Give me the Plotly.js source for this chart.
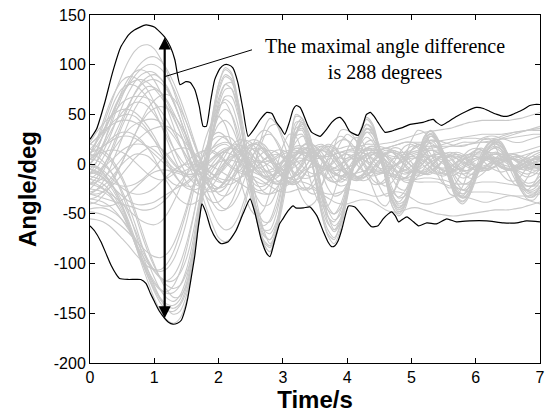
<!DOCTYPE html>
<html>
<head>
<meta charset="utf-8">
<script src="https://cdn.plot.ly/plotly-3.0.1.min.js"></script>
<style>html,body{margin:0;padding:0;background:#fff;}#chart{width:546px;height:416px;}</style>
</head>
<body>
<div id="chart"></div>
<script>
// ---- time grid (s) ----
const time = [0,0.1,0.2,0.3,0.4,0.5,0.6,0.7,0.8,0.9,1,1.1,1.2,1.3,1.4,1.5,1.6,1.7,1.8,1.9,2,2.1,2.2,2.3,2.4,2.5,2.6,2.7,2.8,2.9,3,3.1,3.2,3.3,3.4,3.5,3.6,3.7,3.8,3.9,4,4.1,4.2,4.3,4.4,4.5,4.6,4.7,4.8,4.9,5,5.1,5.2,5.3,5.4,5.5,5.6,5.7,5.8,5.9,6,6.1,6.2,6.3,6.4,6.5,6.6,6.7,6.8,6.9,7];

// ---- gray trajectories (deg), one value per time point ----
const curveA1 = [0,-3,-8,-16,-28,-42,-60,-80,-100,-118, -135,-148,-157,-160,-155,-138,-100,-57,-2,45, 80,97,92,65,22,-25,-58,-80,-88,-72, -32,12,48,46,20,-15,-50,-72,-80,-65, -35,0,30,45,38,15,-15,-42,-52,-45, -22,6,27,34,27,8,-18,-35,-40,-32, -12,8,20,25,22,10,-8,-25,-35,-36, -28];
const curveA2 = [10,8,3,-5,-16,-30,-48,-68,-88,-106, -122,-136,-146,-151,-148,-132,-98,-55,-5,40, 72,88,84,60,20,-22,-56,-78,-84,-68, -30,10,42,42,18,-14,-46,-66,-74,-60, -32,0,27,40,34,13,-14,-38,-48,-41, -20,5,24,31,25,7,-16,-32,-37,-30, -11,7,18,23,20,9,-8,-23,-32,-33, -26];
const curveA3 = [-15,-17,-20,-26,-35,-47,-62,-80,-97,-113, -126,-137,-143,-145,-140,-124,-94,-50,-2,38, 66,80,76,54,16,-22,-54,-72,-76,-60, -26,8,36,38,16,-12,-42,-60,-66,-54, -28,0,24,36,30,12,-12,-34,-44,-38, -18,5,22,28,22,6,-14,-30,-34,-27, -10,6,16,21,18,8,-7,-21,-29,-30, -24];
const curveA4 = [5,4,0,-6,-15,-27,-42,-60,-80,-98, -114,-127,-135,-138,-132,-115,-85,-42,5,48, 80,95,90,62,18,-28,-58,-80,-88,-68, -28,16,50,46,25,-12,-48,-70,-76,-60, -30,4,33,47,40,16,-16,-42,-50,-42, -18,8,28,33,25,5,-18,-34,-38,-30, -10,9,21,25,20,7,-10,-26,-33,-32, -22];
const curveA5 = [-25,-26,-28,-32,-40,-50,-63,-78,-93,-107, -118,-126,-130,-129,-122,-106,-78,-40,0,32, 55,65,60,40,8,-25,-52,-66,-66,-50, -20,10,32,34,15,-12,-38,-53,-58,-46, -22,3,22,32,26,8,-14,-32,-38,-31, -14,6,20,24,18,3,-14,-27,-30,-23, -7,7,15,18,14,4,-8,-20,-26,-25, -18];
const curveA6 = [15,14,11,5,-4,-16,-32,-50,-70,-88, -103,-115,-122,-125,-122,-110,-88,-55,-15,25, 58,75,76,58,24,-14,-48,-70,-76,-64, -34,0,30,42,30,4,-28,-52,-62,-55, -32,-4,20,35,34,18,-6,-30,-42,-40, -24,-2,18,28,26,12,-8,-26,-34,-31, -16,2,16,22,20,10,-4,-18,-27,-29, -24];
const curveA7 = [-5,-7,-11,-17,-26,-37,-51,-66,-82,-96, -107,-114,-118,-117,-110,-95,-70,-36,0,28, 48,55,50,32,4,-24,-46,-58,-58,-44, -18,8,28,30,14,-10,-33,-46,-50,-40, -20,2,19,27,22,7,-12,-27,-33,-27, -12,5,17,21,16,3,-12,-23,-26,-20, -6,6,13,16,12,3,-7,-17,-22,-21, -15];
const curveA8 = [-35,-36,-38,-42,-48,-56,-66,-78,-90,-100, -106,-108,-105,-96,-80,-58,-30,0,26,42, 48,40,20,-6,-30,-46,-52,-46,-28,-4, 18,30,28,12,-10,-30,-42,-42,-28,-6, 14,26,26,14,-4,-22,-32,-30,-18,0, 14,20,16,4,-10,-20,-24,-18,-6,6, 14,16,10,0,-10,-16,-17,-12,-3,6, 10];
const curveA9 = [-8,-10,-14,-21,-31,-44,-60,-78,-96,-113, -128,-140,-147,-148,-142,-128,-100,-55,-10,30, 62,80,82,64,32,-6,-40,-66,-80,-68, -40,-4,30,44,32,8,-24,-52,-66,-58, -32,-2,26,40,36,14,-14,-36,-44,-36, -14,10,26,30,22,2,-18,-30,-32,-22, -4,12,21,22,14,0,-14,-24,-26,-20, -8];
const curveA10 = [20,18,14,8,-1,-13,-28,-46,-65,-84, -101,-116,-127,-134,-133,-122,-96,-50,-10,26, 52,68,68,50,18,-18,-48,-66,-70,-58, -32,0,28,40,32,8,-22,-46,-56,-50, -28,0,24,36,32,14,-10,-30,-40,-36, -20,2,20,28,24,10,-8,-24,-30,-26, -12,4,16,20,17,8,-4,-16,-22,-22, -16];
const curveA11 = [-18,-20,-24,-30,-39,-50,-64,-80,-96,-110, -120,-127,-128,-122,-108,-86,-56,-22,12,40, 58,62,50,26,-4,-34,-54,-62,-56,-38, -12,14,32,36,26,4,-22,-42,-50,-44, -26,-2,20,32,30,16,-4,-24,-34,-32, -20,-2,14,24,22,12,-4,-18,-26,-24, -14,0,12,17,15,7,-4,-14,-19,-18, -12];
const curveA12 = [-2,-4,-9,-17,-28,-41,-57,-75,-93,-110, -124,-135,-141,-142,-136,-120,-90,-48,0,44, 76,90,86,60,20,-22,-56,-76,-82,-66, -30,8,38,46,30,0,-32,-58,-68,-58, -30,2,28,40,34,14,-12,-36,-46,-40, -20,4,22,30,24,8,-12,-28,-34,-28, -12,4,16,22,20,10,-4,-18,-26,-27, -22];
const curveB1 = [10,22,38,56,74,90,104,114,119,120, 116,106,92,74,54,34,14,-6,-24,-38, -46,-46,-38,-22,-4,14,28,34,32,22, 8,-8,-20,-26,-24,-14,0,14,24,28, 24,14,0,-12,-20,-20,-14,-2,10,18, 20,16,6,-4,-10,-12,-8,0,8,14, 16,14,8,2,-4,-6,-4,2,8,12, 14];
const curveB2 = [0,8,20,35,52,68,82,94,102,107, 108,104,95,82,66,48,28,8,-12,-28, -40,-45,-42,-32,-16,2,18,28,30,24, 12,-2,-16,-24,-26,-20,-8,6,18,24, 24,18,6,-6,-16,-20,-18,-10,2,12, 18,18,12,2,-6,-10,-10,-4,4,10, 14,14,10,4,-2,-6,-6,-2,4,9, 12];
const curveB3 = [-10,2,18,38,57,74,86,93,95,92, 84,72,56,38,20,4,-10,-20,-26,-28, -24,-16,-4,8,18,24,24,18,8,-4, -14,-20,-20,-14,-4,8,16,20,18,10, 0,-10,-16,-16,-10,0,10,16,16,10, 2,-6,-10,-10,-4,4,10,12,10,4, -2,-6,-6,-2,4,8,10,8,4,0, -2];
const curveB4 = [-20,-14,-4,10,26,42,58,72,82,88, 90,86,78,64,46,26,6,-14,-32,-48, -60,-66,-64,-54,-36,-14,8,26,38,40, 28,16,-2,-18,-28,-30,-22,-8,8,22, 30,26,20,6,-8,-18,-22,-18,-8,4, 14,20,18,10,0,-8,-12,-10,-4,4, 10,14,12,6,0,-5,-7,-5,0,5, 8];
const curveB5 = [5,14,28,44,60,72,80,84,85,82, 76,68,58,46,32,16,-2,-22,-42,-60, -74,-78,-74,-62,-42,-18,10,34,46,40, 24,4,-18,-34,-42,-38,-22,-2,18,34, 34,28,14,-4,-24,-38,-42,-32,-14,6, 24,34,32,20,2,-18,-30,-32,-22,-4, 14,24,26,18,4,-10,-20,-22,-14,-2, 8];
const curveB6 = [0,12,30,50,66,76,80,79,74,66, 54,40,24,8,-6,-18,-26,-30,-28,-22, -12,0,12,20,24,22,14,4,-8,-16, -20,-18,-10,0,10,16,18,14,6,-4, -12,-16,-14,-6,4,12,16,14,6,-2, -8,-12,-10,-4,4,10,12,10,4,-2, -6,-7,-4,2,7,10,10,6,1,-3, -5];
const curveB7 = [-30,-26,-18,-6,10,26,42,56,66,73, 75,72,64,52,38,22,6,-8,-18,-24, -24,-18,-8,4,14,20,20,14,4,-6, -14,-18,-16,-8,2,12,18,18,12,2, -8,-14,-14,-8,2,10,14,12,6,-2, -8,-10,-8,-2,6,10,10,6,0,-4, -6,-4,0,5,8,8,5,1,-3,-4, -2];
const curveB8 = [20,26,34,44,54,62,66,68,68,66, 62,54,44,32,20,8,-4,-12,-16,-14, -8,2,12,18,18,12,2,-8,-16,-18, -14,-4,8,18,22,18,8,-4,-14,-18, -14,-4,8,16,18,12,2,-8,-14,-14, -8,2,10,14,12,6,-2,-8,-10,-8, -2,4,8,10,8,3,-2,-5,-6,-3, 1];
const curveB9 = [-40,-38,-32,-24,-12,2,16,30,42,51, 56,58,56,50,40,28,14,0,-12,-20, -24,-22,-14,-4,6,14,16,12,4,-6, -12,-14,-10,-2,8,14,14,10,2,-6, -10,-10,-4,4,10,12,8,2,-4,-8, -8,-4,2,8,10,8,2,-4,-7,-6, -2,3,6,7,4,0,-3,-4,-2,1, 3];
const curveB10 = [-15,-10,-2,8,18,27,35,40,43,45, 45,42,36,28,18,8,-2,-10,-14,-14, -10,-2,6,12,14,10,4,-4,-10,-12, -10,-4,4,10,12,10,4,-4,-10,-12, -8,-2,6,10,10,6,0,-6,-8,-6, -2,4,8,8,5,0,-4,-6,-4,0, 4,6,6,3,0,-2,-3,-1,2,4, 5];
const curveB11 = [15,22,32,45,58,70,80,89,96,100, 100,96,88,76,60,42,24,8,-4,-10, -10,-4,4,12,16,16,12,6,2,0, 2,6,10,12,12,10,8,8,10,12, 14,16,18,20,20,20,21,22,24,26, 28,30,32,33,34,35,36,38,40,42, 43,44,44,44,44,44,45,46,48,50, 52];
const curveB12 = [10,24,42,60,74,84,88,87,82,74, 62,48,32,16,2,-10,-18,-22,-20,-14, -6,2,8,10,8,4,-2,-6,-8,-6, -2,2,6,6,4,0,-4,-6,-4,0, 4,6,6,3,0,-4,-5,-3,1,4, 6,6,4,0,-3,-4,-2,2,5,7, 8,8,7,6,5,5,6,8,10,12, 14];
const curveB13 = [-5,2,12,26,42,58,72,83,90,93, 92,86,76,62,46,28,10,-6,-18,-26, -28,-24,-14,-2,10,18,20,16,8,-2, -10,-14,-12,-6,2,10,14,14,8,0, -8,-12,-12,-6,2,8,12,12,6,0, -6,-8,-6,-2,4,8,8,6,2,-2, -4,-4,-2,2,5,6,5,2,-1,-3, -3];
const curveB14 = [-25,-18,-8,6,22,38,52,64,73,78, 77,72,62,48,32,14,-4,-20,-32,-38, -38,-32,-20,-6,8,18,22,20,12,0, -10,-18,-20,-14,-4,6,14,18,16,8, -2,-10,-14,-12,-6,2,10,14,12,6, -2,-8,-10,-8,-2,4,8,10,8,2, -4,-6,-6,-2,2,6,8,6,2,-2, -4];
const curveB15 = [-35,-33,-28,-20,-10,2,16,30,44,56, 64,69,70,66,56,42,24,6,-10,-22, -30,-32,-28,-18,-6,6,14,16,12,4, -6,-14,-16,-12,-4,6,14,18,16,8, -2,-10,-14,-12,-4,4,10,12,10,4, -2,-6,-8,-6,-2,4,8,8,6,2, -2,-4,-4,-2,2,4,5,4,2,0, -1];
const curveB16 = [0,8,18,30,42,52,58,62,62,58, 50,40,28,16,6,-2,-6,-6,-2,4, 10,14,16,14,10,6,2,2,4,8, 12,14,14,12,10,8,8,10,14,16, 18,18,16,14,14,14,16,18,20,22, 22,20,18,18,18,20,22,24,26,26, 26,25,25,26,28,30,32,33,34,34, 34];
const curveB17 = [-10,-4,6,18,32,46,60,71,80,84, 85,82,74,62,46,28,10,-6,-18,-24, -24,-18,-8,4,14,20,20,14,6,-2, -6,-6,-2,4,10,14,14,12,8,6, 6,8,12,16,18,18,16,14,12,12, 14,18,22,24,24,22,20,18,18,20, 22,26,28,28,26,24,22,22,24,26, 28];
const curveB18 = [10,18,28,38,45,49,50,48,42,34, 24,12,0,-10,-18,-22,-22,-18,-10,0, 8,14,16,14,8,0,-8,-14,-16,-14, -8,0,8,14,16,12,4,-4,-10,-12, -10,-4,4,10,12,10,4,-2,-8,-10, -8,-2,4,8,8,6,0,-4,-6,-6, -2,2,5,6,5,2,-1,-3,-4,-2, 0];
const curveB19 = [-20,-18,-14,-8,-2,6,14,22,28,33, 36,38,38,34,28,20,10,0,-8,-14, -18,-18,-14,-8,-2,2,4,2,-2,-8, -12,-14,-12,-8,-4,-2,-2,-4,-8,-12, -14,-14,-12,-10,-8,-8,-10,-12,-14,-16, -16,-15,-14,-14,-15,-16,-18,-20,-20,-20, -19,-18,-18,-18,-19,-20,-21,-22,-22,-22, -22];
const curveC1 = [-48,-49,-51,-54,-58,-63,-69,-76,-83,-89, -93,-94,-90,-80,-64,-44,-22,-2,14,24, 28,26,18,6,-6,-16,-22,-22,-16,-6, 4,12,16,14,8,-2,-10,-14,-12,-6, 2,8,12,10,4,-4,-10,-12,-8,-2, 4,8,8,4,-2,-6,-8,-6,-2,2, 6,7,5,1,-3,-5,-5,-2,2,5, 6];
const curveC2 = [-20,-22,-25,-29,-34,-40,-46,-52,-57,-60, -61,-58,-50,-38,-24,-10,2,10,14,14, 10,4,-2,-6,-8,-6,-2,4,8,10, 8,4,-2,-8,-12,-12,-8,-2,4,8, 10,8,4,-2,-8,-10,-8,-4,2,6, 8,6,2,-4,-8,-10,-8,-4,0,4, 6,6,3,0,-4,-6,-6,-4,-1,2, 4];
const curveC3 = [0,-2,-6,-12,-18,-24,-28,-30,-30,-28, -24,-18,-12,-6,-2,0,0,-2,-6,-10, -14,-16,-16,-14,-12,-12,-14,-18,-22,-26, -28,-28,-26,-24,-24,-26,-30,-34,-38,-40, -40,-38,-36,-36,-38,-42,-46,-48,-48,-46, -44,-44,-46,-48,-50,-51,-52,-52,-51,-50, -49,-48,-47,-46,-46,-46,-45,-44,-42,-40, -38];
const curveC4 = [5,10,17,24,29,32,32,29,24,16, 6,-6,-18,-28,-36,-40,-40,-36,-28,-16, -4,8,18,24,24,18,8,-4,-14,-20, -20,-16,-8,2,12,18,20,16,8,-2, -10,-16,-16,-12,-4,4,10,12,10,4, -2,-8,-10,-8,-2,4,8,10,8,4, 0,-4,-5,-3,1,5,8,8,6,3, 0];
const curveC5 = [-10,-8,-4,2,8,14,18,20,20,18, 14,8,2,-4,-8,-10,-10,-6,0,6, 10,12,10,6,2,-2,-4,-2,2,6, 10,12,12,10,8,6,6,8,10,12, 14,14,14,14,14,15,16,18,20,22, 22,22,22,22,23,24,25,26,27,28, 29,30,30,30,30,31,32,33,34,35, 36];
const curveC6 = [-30,-30,-28,-24,-18,-10,-2,6,12,16, 18,16,10,2,-6,-12,-16,-16,-12,-4, 4,12,16,16,10,2,-6,-12,-14,-10, -4,4,10,14,14,10,4,-2,-6,-6, -4,0,4,8,10,10,8,6,6,8, 10,12,14,16,17,18,18,18,19,20, 21,22,23,24,25,26,27,28,29,30, 30];
const curveC7 = [20,26,32,38,42,44,44,42,38,32, 24,16,8,0,-6,-10,-10,-6,0,6, 12,16,16,12,6,0,-6,-8,-6,-2, 4,10,12,10,6,0,-4,-6,-4,0, 6,10,12,10,6,2,-2,-2,0,4, 8,10,10,8,6,4,4,6,8,10, 12,12,12,11,10,10,11,12,14,16, 18];
const curveC8 = [-5,-8,-13,-19,-26,-32,-37,-40,-41,-40, -38,-34,-30,-26,-22,-18,-12,-4,6,16, 24,28,26,18,6,-8,-20,-28,-30,-24, -14,-2,10,18,20,14,4,-8,-18,-22, -20,-12,-2,8,14,14,8,-2,-12,-18, -18,-12,-4,4,10,10,6,-2,-10,-14, -14,-10,-4,2,6,7,4,-1,-6,-9, -10];
const curveC9 = [22,32,40,47,52,55,55,52,46,38, 28,16,4,-8,-18,-24,-26,-24,-18,-8, 2,12,18,20,16,8,-2,-12,-18,-20, -16,-8,2,12,18,18,12,2,-8,-14, -16,-12,-4,4,10,12,10,4,-2,-6, -8,-6,-2,2,6,8,8,6,2,0, -2,-2,0,2,4,5,5,4,2,1, 0];
const curveC10 = [-45,-44,-44,-46,-50,-56,-64,-74,-86,-98, -108,-115,-117,-112,-100,-80,-54,-24,4,26, 40,44,38,22,2,-18,-34,-42,-40,-28, -10,8,22,28,24,10,-8,-24,-32,-30, -20,-4,12,22,24,16,2,-14,-24,-26, -18,-4,10,18,18,10,-2,-14,-20,-18, -10,0,8,12,10,4,-4,-10,-13,-11, -5];
const curveC11 = [8,10,12,14,14,12,8,2,-4,-10, -14,-16,-14,-10,-4,2,8,12,14,12, 8,2,-4,-8,-10,-8,-2,4,10,14, 14,10,4,-2,-8,-10,-8,-4,2,8, 12,12,8,2,-4,-8,-8,-4,2,8, 12,12,8,2,-4,-6,-6,-2,4,8, 10,10,6,2,-2,-4,-4,-1,3,6, 8];
const curveC12 = [-28,-26,-22,-16,-8,0,6,10,10,8, 2,-6,-14,-20,-22,-20,-14,-6,4,12, 18,20,16,8,-2,-12,-18,-20,-16,-8, 2,10,16,16,12,4,-6,-14,-18,-16, -10,-2,8,14,16,12,4,-4,-10,-14, -12,-6,2,8,12,12,8,0,-6,-10, -10,-6,0,6,10,10,6,0,-4,-6, -6];
const curveC13 = [-38,-40,-42,-42,-40,-36,-30,-24,-18,-12, -8,-6,-6,-8,-10,-12,-12,-10,-6,-2, 2,4,4,2,-2,-6,-10,-12,-12,-10, -6,-2,2,4,4,2,-2,-6,-10,-12, -12,-10,-8,-6,-6,-6,-8,-10,-12,-14, -16,-18,-18,-18,-18,-20,-22,-24,-26,-28, -28,-28,-28,-29,-30,-31,-32,-32,-32,-31, -30];
const curveC14 = [12,14,18,22,26,28,28,26,22,16, 10,4,-2,-6,-8,-6,-2,4,10,16, 20,22,20,14,6,-2,-8,-12,-12,-8, -2,6,12,16,16,12,6,0,-4,-6, -4,0,6,10,12,12,10,8,8,10, 12,14,14,14,14,16,18,20,22,22, 22,22,22,24,26,28,30,32,34,36, 38];
const curveC15 = [-12,-14,-16,-18,-20,-22,-22,-20,-16,-10, -4,4,10,14,16,16,12,6,-2,-10, -16,-20,-20,-16,-10,-2,6,12,14,12, 6,-2,-10,-14,-14,-10,-4,4,10,12, 10,4,-4,-10,-12,-10,-4,4,10,12, 10,4,-2,-8,-10,-8,-4,2,8,10, 8,4,-2,-6,-8,-6,-2,2,6,8, 6];
const curveC16 = [-55,-56,-58,-62,-68,-75,-82,-90,-97,-103, -106,-106,-100,-88,-70,-48,-24,-2,16,28, 32,28,18,4,-10,-20,-26,-26,-20,-10, 2,12,18,18,12,2,-8,-16,-18,-14, -6,4,12,16,14,6,-4,-12,-16,-14, -6,4,10,14,12,6,-2,-10,-14,-12, -6,2,8,10,8,2,-4,-8,-10,-8, -4];
const curveC17 = [-30,-32,-34,-36,-38,-40,-42,-44,-46,-46, -44,-40,-34,-26,-18,-10,-4,0,0,-2, -6,-10,-14,-18,-22,-26,-28,-30,-30,-28, -24,-20,-18,-18,-20,-24,-28,-30,-30,-28, -26,-26,-28,-30,-32,-32,-30,-28,-28,-30, -34,-38,-40,-40,-38,-36,-34,-32,-32,-34, -36,-38,-38,-36,-34,-32,-32,-34,-36,-38, -40];

const grayCurves = [curveA1,curveA2,curveA3,curveA4,curveA5,curveA6,curveA7,curveA8,curveA9,curveA10,curveA11,curveA12,
  curveB1,curveB2,curveB3,curveB4,curveB5,curveB6,curveB7,curveB8,curveB9,curveB10,curveB11,curveB12,curveB13,curveB14,curveB15,curveB16,curveB17,curveB18,curveB19,
  curveC1,curveC2,curveC3,curveC4,curveC5,curveC6,curveC7,curveC8,curveC9,curveC10,curveC11,curveC12,curveC13,curveC14,curveC15,curveC16,curveC17];

// ---- envelopes (black) ----
const upperTime = [0,0.1,0.23,0.35,0.48,0.6,0.69,0.87,1,1.16,1.25,1.32,1.4,1.49,1.56,1.63,1.7,1.76,1.81,1.88,1.94,2.02,2.09,2.15,2.22,2.3,2.38,2.46,2.55,2.65,2.75,2.83,2.9,2.97,3.03,3.1,3.16,3.21,3.27,3.32,3.38,3.45,3.58,3.68,3.76,3.83,3.89,3.96,4.04,4.17,4.24,4.3,4.36,4.42,4.48,4.59,4.68,4.77,4.87,4.98,5.08,5.18,5.27,5.34,5.39,5.47,5.58,5.7,5.85,6.01,6.12,6.22,6.33,6.43,6.54,6.64,6.74,6.84,6.92,7];
const upperEnv = [25,35,62,92,118,130,135,140,138,128,118,105,80,83,82,75,58,38,38,65,85,96,100,100,97,82,55,28,35,45,52,51,42,36,30,42,55,59,57,50,40,32,28,35,42,46,47,42,33,29,38,50,52,48,42,32,33,35,37,40,41,42,44,45,42,39,43,48,53,57,56,53,50,48,49,52,55,59,60,60];
const lowerTime = [0,0.07,0.17,0.25,0.33,0.4,0.46,0.6,0.79,0.87,0.94,1,1.08,1.16,1.22,1.29,1.36,1.42,1.48,1.52,1.58,1.63,1.68,1.71,1.74,1.8,1.88,1.96,2.04,2.15,2.27,2.38,2.49,2.57,2.66,2.75,2.8,2.88,2.95,3,3.08,3.16,3.2,3.32,3.42,3.53,3.63,3.7,3.76,3.81,3.86,3.92,3.97,4.02,4.12,4.25,4.38,4.48,4.56,4.64,4.69,4.75,4.8,4.85,4.93,5.03,5.11,5.24,5.39,5.55,5.7,5.91,6.17,6.43,6.64,6.79,7];
const lowerEnv = [-62,-67,-78,-90,-102,-110,-115,-116,-116,-120,-130,-138,-148,-155,-159,-161,-160,-157,-146,-135,-112,-92,-65,-52,-40,-48,-65,-75,-80,-78,-67,-50,-35,-50,-75,-90,-93,-75,-60,-55,-47,-42,-44,-44,-43,-52,-68,-78,-83,-82,-77,-65,-52,-42,-43,-53,-63,-62,-55,-50,-48,-52,-58,-56,-53,-58,-62,-59,-60,-55,-58,-57,-57,-59,-59,-57,-58];

// ---- annotation geometry ----
const arrowTime = 1.162;
const arrowTop = 129;
const arrowBottom = -155;
const pointerFrom = [1.162, 88];
const pointerTo = [2.52, 115];
const noteText = 'The maximal angle difference<br>is 288 degrees';
const notePos = [4.59, 105.5];

const xTicks = [0,1,2,3,4,5,6,7];
const yTicks = [-200,-150,-100,-50,0,50,100,150];

const traces = [];
grayCurves.forEach(function (c) {
  traces.push({x: time, y: c, type: 'scatter', mode: 'lines', line: {color: '#c9c9c9', width: 1.1, shape: 'spline', smoothing: 0.8}, hoverinfo: 'skip', showlegend: false});
});
traces.push({x: upperTime, y: upperEnv, type: 'scatter', mode: 'lines', line: {color: '#000', width: 1.2, shape: 'spline', smoothing: 0.5}, showlegend: false});
traces.push({x: lowerTime, y: lowerEnv, type: 'scatter', mode: 'lines', line: {color: '#000', width: 1.2, shape: 'spline', smoothing: 0.5}, showlegend: false});

const tickFont = {family: 'Liberation Sans, Arial, sans-serif', size: 16, color: '#000'};
const titleFont = {family: 'Liberation Sans, Arial, sans-serif', size: 24, color: '#000', weight: 'bold'};

const layout = {
  width: 546, height: 416,
  margin: {l: 90, r: 6, t: 15, b: 53, pad: 0},
  paper_bgcolor: '#fff', plot_bgcolor: '#fff',
  showlegend: false,
  xaxis: {
    range: [0, 7], tickvals: xTicks, ticktext: xTicks.map(String),
    ticks: 'inside', ticklen: 5, tickcolor: '#000', tickwidth: 1,
    showline: true, linecolor: '#000', linewidth: 1, mirror: 'ticks',
    showgrid: false, zeroline: false, tickfont: tickFont,
    title: {text: '<b>Time/s</b>', font: titleFont, standoff: 2}
  },
  yaxis: {
    range: [-200, 150], tickvals: yTicks, ticktext: yTicks.map(String),
    ticks: 'inside', ticklen: 5, tickcolor: '#000', tickwidth: 1,
    showline: true, linecolor: '#000', linewidth: 1, mirror: 'ticks',
    showgrid: false, zeroline: false, tickfont: tickFont,
    title: {text: '<b>Angle/deg</b>', font: titleFont, standoff: 10}
  },
  shapes: [{type: 'line', xref: 'x', yref: 'y', x0: pointerFrom[0], y0: pointerFrom[1], x1: pointerTo[0], y1: pointerTo[1], line: {color: '#000', width: 1}}],
  annotations: [
    {x: arrowTime, y: arrowBottom, ax: arrowTime, ay: arrowTop, xref: 'x', yref: 'y', axref: 'x', ayref: 'y', text: '', showarrow: true, arrowhead: 2, arrowside: 'end+start', arrowsize: 1.1, arrowwidth: 2.2, arrowcolor: '#000'},
    {x: notePos[0], y: notePos[1], xref: 'x', yref: 'y', text: noteText, showarrow: false, font: {family: 'Liberation Serif, Times New Roman, serif', size: 20, color: '#000'}, align: 'center', xanchor: 'center', yanchor: 'middle'}
  ]
};

Plotly.newPlot('chart', traces, layout, {staticPlot: true, displayModeBar: false});
</script>
</body>
</html>
